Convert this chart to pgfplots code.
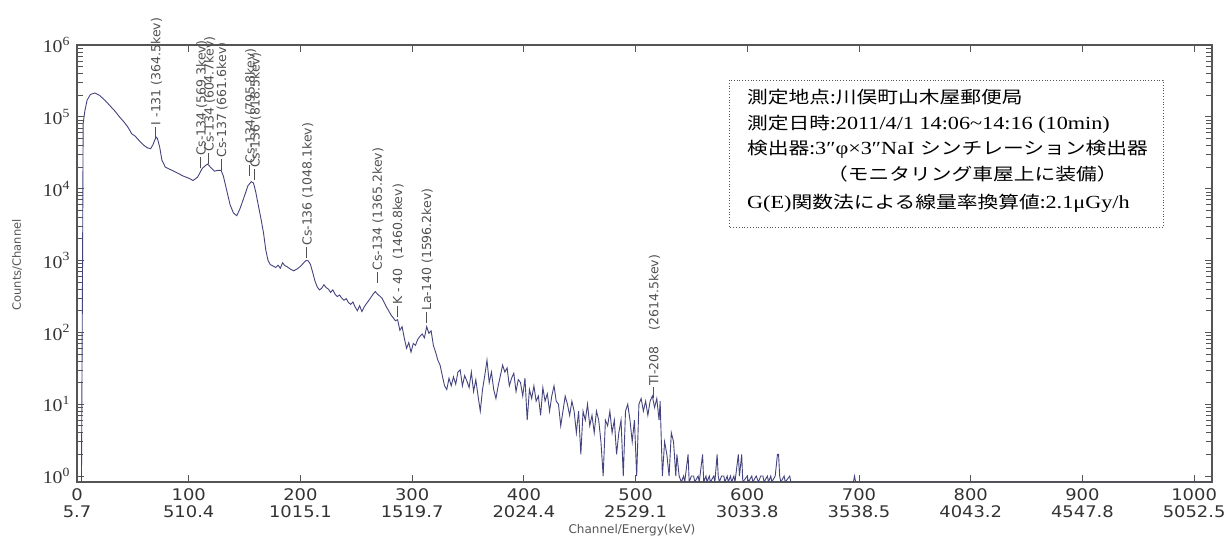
\documentclass[border=0pt]{standalone}
\usepackage{pgfplots}
\pgfplotsset{compat=1.18}
\usepackage{fontspec}
\setmainfont{DejaVu Sans}
\newfontfamily\tickfont[FakeStretch=1.12]{DejaVu Sans}
\newfontfamily\lblfont{DejaVu Sans}
\newfontfamily\serif[FakeStretch=1.2]{Liberation Serif}
\newfontfamily\yserif[FakeStretch=1.1]{Liberation Serif}
\newfontfamily\jp[FakeStretch=1.22]{Noto Sans CJK JP}
\definecolor{spec}{HTML}{43437E}
\definecolor{axisgray}{HTML}{555555}
\definecolor{lblgray}{HTML}{505050}
\definecolor{tickgray}{HTML}{333333}
\newcommand\pk[1]{\rule[0.36em]{11pt}{0.7pt}\hspace{1.5pt}#1}
\newcommand\ylab[1]{\yserif\fontsize{18}{18}\selectfont 10\raisebox{0.4em}{\fontsize{12.5}{12.5}\selectfont #1}}
\newcommand\xl[2]{#1\\#2}
\tikzset{peak/.style={rotate=90, anchor=west, inner sep=0pt, text=lblgray, font=\lblfont\fontsize{12.5}{12.5}\selectfont}}
\begin{document}
\begin{tikzpicture}
\useasboundingbox (-77pt,-58pt) rectangle (1152pt,482pt);
\begin{axis}[
  scale only axis, width=1135pt, height=437pt,
  ymode=log, xmin=0, xmax=1016, ymin=0.826, ymax=1e6,
  clip mode=individual,
  axis line style={draw=axisgray, line width=1.2pt},
  tick align=inside, xtick pos=both, ytick pos=both,
  major tick length=7pt, minor tick length=6pt,
  tick style={draw=axisgray, line width=0.8pt},
  xtick={0,100,200,300,400,500,600,700,800,900,1000},
  xticklabels={\xl{0}{5.7},\xl{100}{510.4},\xl{200}{1015.1},\xl{300}{1519.7},\xl{400}{2024.4},\xl{500}{2529.1},\xl{600}{3033.8},\xl{700}{3538.5},\xl{800}{4043.2},\xl{900}{4547.8},\xl{1000}{5052.5}},
  xticklabel style={font=\tickfont\fontsize{16}{17.5}\selectfont, text=tickgray, align=center, yshift=-3pt},
  ytick={1,10,100,1000,10000,100000,1000000},
  yticklabels={\ylab{0},\ylab{1},\ylab{2},\ylab{3},\ylab{4},\ylab{5},\ylab{6}},
  yticklabel style={text=tickgray, xshift=-4pt},
  minor ytick={2,3,4,5,6,7,8,9,20,30,40,50,60,70,80,90,200,300,400,500,600,700,800,900,2000,3000,4000,5000,6000,7000,8000,9000,20000,30000,40000,50000,60000,70000,80000,90000,200000,300000,400000,500000,600000,700000,800000,900000},
]
\addplot[spec, line width=0.9pt, mark=none] coordinates {
(4,0.826)(4.5,35)(5,1000)(5.5,80000)(7,120000)(9,170000)(12,205000)(16,215000)(20,200000)
(25,170000)(30,140000)(34,120000)(38,100000)(42,85000)(45,74000)(47,66000)(49,58000)
(52,54000)(56,46000)(60,40000)(63,37000)(66,36000)(68,41000)(70,49000)(71,52000)(72,50000)
(74,38000)(76,25000)(79,20000)(85,18000)(90,16500)(95,15000)(100,14000)(104,13000)
(108,14500)(112,19000)(115,21000)(117,22000)(120,19500)(123,17500)(126,18000)(129,18000)
(131,15000)(134,9500)(137,6000)(140,4600)(143,4200)(146,5300)(150,8000)(153,11000)
(156,12500)(158,12000)(160,9000)(162,6200)(165,3600)(167,2400)(169,1400)(171,1000)
(173,880)(176,830)(178,800)(180,860)(182,780)(184,930)(186,850)(188,820)(191,760)
(194,720)(197,760)(200,830)(203,930)(205,1000)(207,990)(209,880)(211,680)(213,520)
(215,430)(217,390)(219,410)(221,460)(223,420)(225,400)(227,360)(229,390)(231,340)
(233,315)(235,330)(237,300)(239,280)(241,295)(243,260)(245,245)(247,265)(249,225)
(251,200)(253,235)(255,195)(257,225)(259,250)(261,275)(263,305)(265,340)(267,370)
(269,340)(271,320)(273,300)(275,260)(277,225)(279,200)(281,175)(283,160)(285,145)
(287,150)(289,107)(291,120)(293,83)(295,60)(297,72)(299,53)(301,70)(303,66)(305,80)
(307,88)(309,95)(311,84)(313,120)(315,97)(317,105)(319,66)(321,53)(323,41)(325,35)
(327,25)(329,18)(331,16)(333,23)(335,18)(337,24)(339,19)(341,28)(343,30)(345,18)
(347,25)(349,21)(351,17)(353,28)(355,15)(357,22)(359,13)(361,8)(363,16)(365,25)
(367,41)(369,20)(371,28)(373,16)(375,12)(377,18)(379,25)(381,35)(383,28)(385,32)
(387,18)(389,23)(391,27)(393,15)(395,22)(397,20)(399,13)(401,23)(403,6)(405,16)
(407,12)(409,18)(411,11)(413,13)(415,7)(417,17)(419,11)(421,14)(423,8)(425,13)
(427,18)(429,11)(431,10)(433,5)(435,8)(437,13)(439,10)(441,7)(443,11)(445,8)
(447,4)(449,8)(451,2)(453,8)(455,6)(457,10)(459,5)(461,7)(463,4)(465,8)(467,6)
(469,3)(471,1)(473,6)(475,5)(477,8)(479,4)(481,6)(483,2)(485,4)(487,6)(489,1)
(491,8)(493,10)(495,6)(497,3)(499,6)(501,1)(503,10)(505,12)(507,8)(509,11)(511,7)
(513,11)(515,13)(517,9)(519,12)(521,6)(522,11)(524,1)(526,3)(528,2)(530,1)(532,4)
(534,3)(536,1)(537,2)(539,1)(541,0.826)(543,1)(544,0.826)(547,2)(548,0.826)(550,1)
(552,1)(553,0.826)(556,1)(557,0.826)(560,2)(561,0.826)(563,1)(564,0.826)(566,1)
(567,0.826)(570,1)(571,0.826)(573,2)(574,1)(575,0.826)(577,1)(579,1)(580,0.826)
(582,1)(583,0.826)(585,1)(586,0.826)(588,1)(589,0.826)(592,2)(593,1)(595,2)
(596,0.826)(600,1)(601,0.826)(604,1)(605,0.826)(608,1)(610,0.826)(612,1)(614,1)
(615,0.826)(618,1)(619,0.826)(621,1)(622,0.826)(625,1)(627,2)(628,2)(629,1)
(630,0.826)(633,1)(634,0.826)(638,1)(639,0.826)(695,0.826)(696,1)(697,0.826)(1016,0.826)
};
\node[peak] at (axis cs:71.09,51000) {\pk{I -131 (364.5kev)}};
\node[peak] at (axis cs:111.67,19000) {\pk{Cs-134 (569.3kev)}};
\node[peak] at (axis cs:118.69,22000) {\pk{Cs-134 (604.7kev)}};
\node[peak] at (axis cs:129.96,18000) {\pk{Cs-137 (661.6kev)}};
\node[peak] at (axis cs:155.5,15000) {\pk{Cs-134 (795.8kev)}};
\node[peak] at (axis cs:160,13000) {\pk{Cs-136 (818.5kev)}};
\node[peak] at (axis cs:206.55,1070) {\pk{Cs-136 (1048.1kev)}};
\node[peak] at (axis cs:269.38,480) {\pk{Cs-134 (1365.2kev)}};
\node[peak] at (axis cs:287.5,160) {\pk{K - 40\hspace{9pt}(1460.8kev)}};
\node[peak] at (axis cs:313.5,133) {\pk{La-140 (1596.2kev)}};
\node[peak] at (axis cs:516.92,12) {\pk{Tl-208\hspace{16pt}(2614.5kev)}};
\end{axis}
% axis labels
\node[rotate=90, text=axisgray, font=\lblfont\fontsize{11.5}{11.5}\selectfont] at (-60pt,217pt) {Counts/Channel};
\node[text=axisgray, font=\lblfont\fontsize{12}{12}\selectfont] at (555pt,-48pt) {Channel/Energy(keV)};
% info box
\draw[axisgray, line width=0.8pt, dotted] (652pt,402pt) rectangle (1086pt,255pt);
\begin{scope}[every node/.style={anchor=base west, inner sep=0pt, text=black}]
\node at (670pt,378.5pt) {\jp\fontsize{17}{17}\selectfont 測定地点:川俣町山木屋郵便局};
\node at (670pt,352.5pt) {\jp\fontsize{17}{17}\selectfont 測定日時:\serif\fontsize{18.5}{18.5}\selectfont 2011/4/1 14:06\symbol{"7E}14:16 (10min)};
\node at (670pt,327.5pt) {\jp\fontsize{17}{17}\selectfont 検出器:\serif\fontsize{18.5}{18.5}\selectfont 3″φ×3″NaI \jp\fontsize{17}{17}\selectfont シンチレーション検出器};
\node at (750pt,301.5pt) {\jp\fontsize{17}{17}\selectfont （モニタリング車屋上に装備）};
\node at (670pt,273.5pt) {\serif\fontsize{18.5}{18.5}\selectfont G(E)\jp\fontsize{17}{17}\selectfont 関数法による線量率換算値:\serif\fontsize{18.5}{18.5}\selectfont 2.1μGy/h};
\end{scope}
\end{tikzpicture}
\end{document}
